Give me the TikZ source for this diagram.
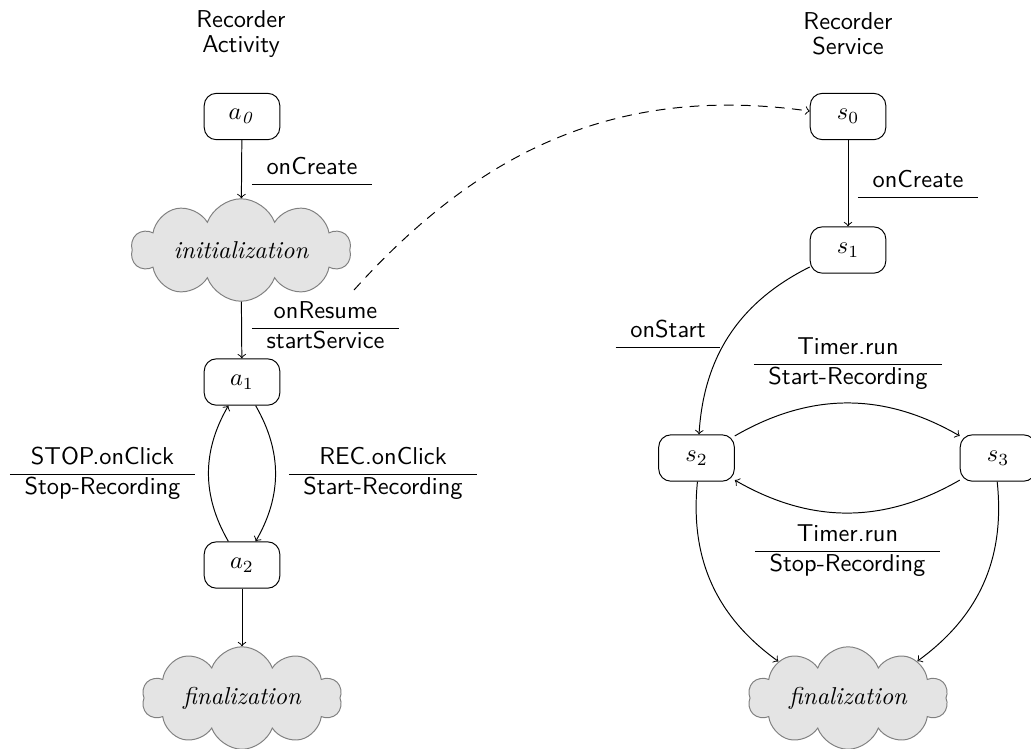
\documentclass[tikz,border=0pt]{standalone}
\usetikzlibrary{shapes.symbols}
\tikzset{
  state/.style={draw, rounded corners=5pt, minimum width=31pt, minimum height=19pt, inner sep=2pt},
  blob/.style={cloud, cloud puffs=10, cloud puff arc=140, cloud ignores aspect, draw=gray, fill=gray!21, font=\rmfamily\itshape, minimum height=42pt},
  lbl/.style={inner sep=0pt, font=\sffamily},
  ttl/.style={inner sep=0pt, font=\sffamily, align=center},
  flow/.style={->},
  link/.style={->, dash pattern=on 4pt off 3pt},
}
\newcommand\trans[2]{\begin{tabular}{c}#1\\\hline #2\strut\end{tabular}}
\begin{document}
\begin{tikzpicture}[x=0.41pt,y=-0.41pt]
\useasboundingbox (0,0) rectangle (1031,748);
% titles
\node[ttl] (tA) at (241,34) {Recorder\\[-1.75pt]Activity};
\node[ttl] (tS) at (848,34) {Recorder\\[-1.75pt]Service};
% activity
\node[state] (a0) at (242,116.5) {$a_{\mathit{0}}$};
\node[blob, minimum width=90pt] (ini) at (241,250) {initialization};
\node[state] (a1) at (242,382) {$a_1$};
\node[state] (a2) at (242,565) {$a_2$};
\node[blob, minimum width=82pt] (finA) at (242,698) {finalization};
% service
\node[state] (s0) at (848,116.5) {$s_0$};
\node[state] (s1) at (848,250) {$s_1$};
\node[state] (s2) at (696.5,458) {$s_2$};
\node[state] (s3) at (998,458) {$s_3$};
\node[blob, minimum width=82pt] (finS) at (848,698) {finalization};
% labels
\node[lbl] (l1) at (312,184) {\trans{onCreate}{}};
\node[lbl] (l2) at (325.5,328) {\trans{onResume}{startService}};
\node[lbl] (l3) at (102.5,474) {\trans{STOP.onClick}{Stop-Recording}};
\node[lbl] (l4) at (383,474) {\trans{REC.onClick}{Start-Recording}};
\node[lbl] (l5) at (918,197) {\trans{onCreate}{}};
\node[lbl] (l6) at (668,347) {\trans{onStart}{}};
\node[lbl] (l7) at (848,364) {\trans{Timer.run}{Start-Recording}};
\node[lbl] (l8) at (847.5,551) {\trans{Timer.run}{Stop-Recording}};
% edges
\draw[flow] (a0) -- (ini);
\draw[flow] (ini) -- (a1);
\draw[flow] (a1) to[bend left=30] (a2);
\draw[flow] (a2) to[bend left=30] (a1);
\draw[flow] (a2) -- (finA);
\draw[flow] (s0) -- (s1);
\draw[flow] (s1) to[bend right=30] (s2);
\draw[flow] (s2) to[bend left=30] (s3);
\draw[flow] (s3) to[bend left=30] (s2);
\draw[flow] (s2) to[bend right=30] (finS);
\draw[flow] (s3) to[bend left=30] (finS);
\coordinate (ds) at (354,290);
\draw[link] (ds) to[out=48,in=172] (s0);
\end{tikzpicture}
\end{document}
